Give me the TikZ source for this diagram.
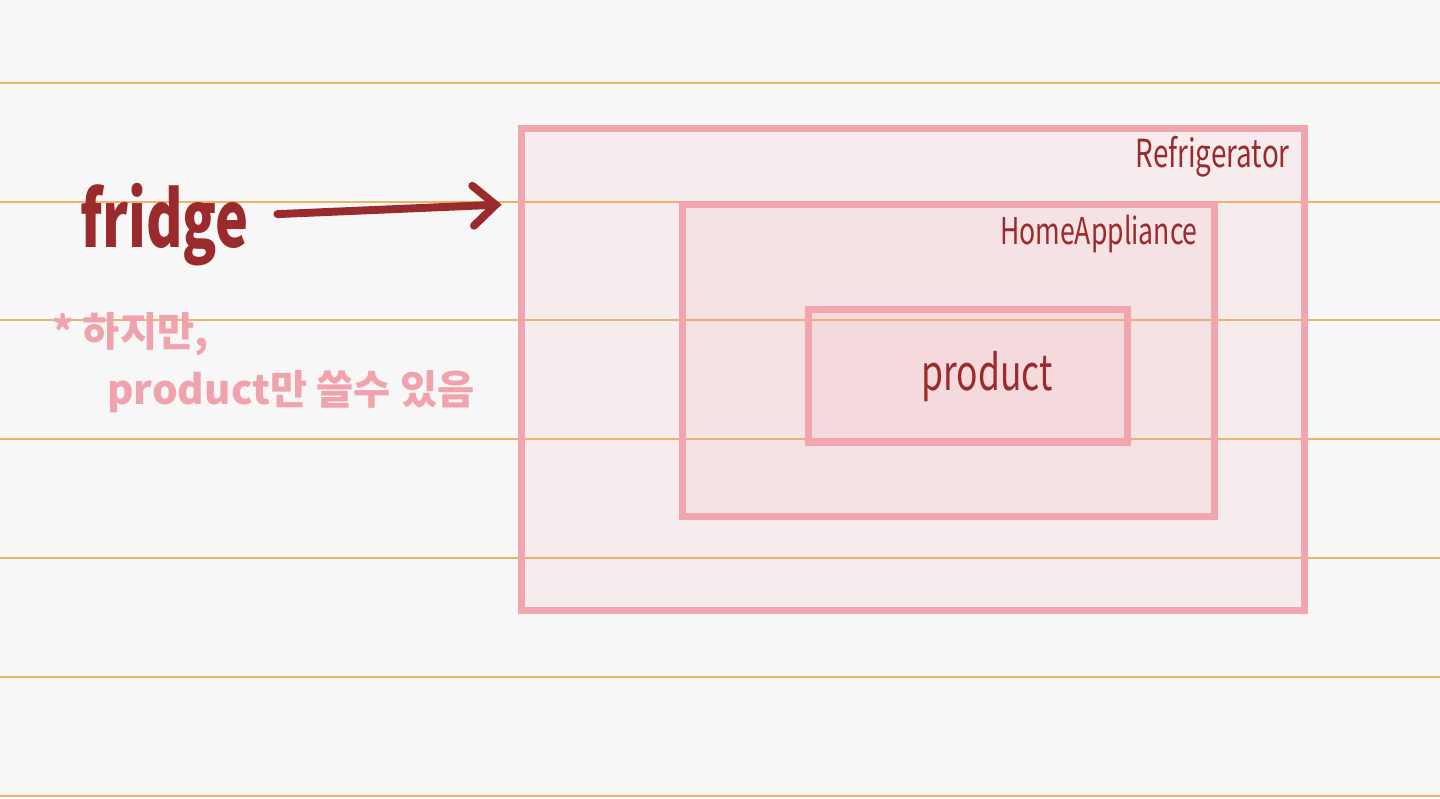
\documentclass[tikz,border=0pt]{standalone}
\usepackage{fontspec}
\setmainfont{Noto Sans CJK KR}
\newfontfamily\handfont[FakeStretch=0.72]{Noto Sans CJK KR}
\usetikzlibrary{positioning,calc,arrows.meta}
\definecolor{PaperBg}{HTML}{F7F7F7}
\definecolor{RuleOrange}{HTML}{EDB369}
\definecolor{BoxPink}{HTML}{F1A5AE}
\definecolor{InkRed}{HTML}{9B2A2C}
\definecolor{NotePink}{HTML}{F0A3AD}
\tikzset{rule/.style={draw=RuleOrange,line width=1.6pt},
  classbox/.style={draw=BoxPink,line width=4pt,fill=BoxPink,fill opacity=0.13,draw opacity=1,text opacity=1,inner sep=0pt},
  lbl/.style={text=InkRed,font=\handfont,inner sep=0pt},
  note/.style={text=NotePink,font=\bfseries\fontsize{23}{27}\selectfont,inner sep=0pt},
  arrowline/.style={draw=InkRed,line width=4.5pt,line cap=round,line join=round,-{Straight Barb[length=4.5mm,width=8mm,line cap=round]}}}

\begin{document}
\begin{tikzpicture}[x=0.02cm,y=-0.02cm]
\useasboundingbox (0,0) rectangle (1440,798);
\fill[PaperBg] (0,0) rectangle (1440,798);
% ruled paper
\foreach \ry in {83,202,320,439,558,677,796}
  \draw[rule] (0,\ry) -- (1440,\ry);
% nested classes
\node[classbox,minimum width=15.68cm,minimum height=9.66cm] (refbox) at (913,369.5) {};
\node[classbox,minimum width=10.66cm,minimum height=6.26cm] (homebox) at (948.5,360.5) {};
\node[classbox,minimum width=6.4cm,minimum height=2.66cm] (prodbox) at (968,375.5) {};
\node[lbl,anchor=base east,font=\handfont\fontsize{22}{25}\selectfont] (reflbl) at (1290,167) {Refrigerator};
\node[lbl,anchor=base east,font=\handfont\fontsize{21}{24}\selectfont] (homelbl) at (1198,244) {HomeAppliance};
\node[lbl,anchor=base,font=\handfont\fontsize{28}{31}\selectfont] (prodlbl) at (987,390) {product};
% reference variable
\node[lbl,anchor=base west,font=\handfont\bfseries\fontsize{44}{48}\selectfont] (fridge) at (80,247) {fridge};
\draw[arrowline] ($(fridge.east)+(28,-10)$) -- ($(refbox.north west)+(-16,80)$);
% note
\node[note,anchor=base west] (note1) at (52,346) {* 하지만,};
\node[note,anchor=base west] (note2) at (107,404) {product만 쓸수 있음};
\end{tikzpicture}
\end{document}
